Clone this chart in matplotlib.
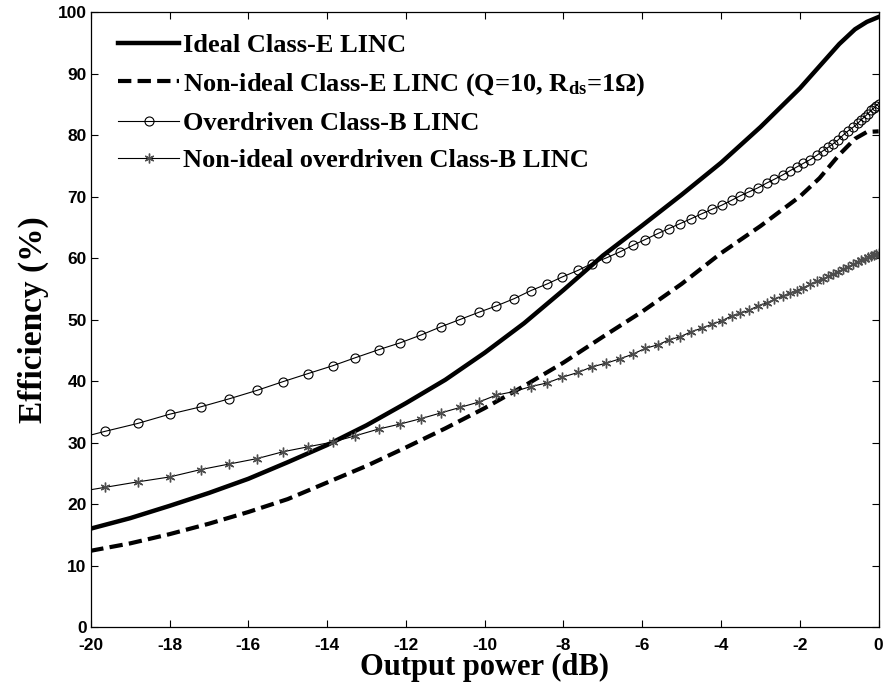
import matplotlib
matplotlib.use("Agg")
import matplotlib.pyplot as plt

# marker grid shared by both Class-B curves (dB)
power_db = [-20.49, -19.65, -18.81, -18.00, -17.21, -16.49, -15.77, -15.12, -14.49, -13.85,
            -13.28, -12.69, -12.15, -11.61, -11.12, -10.63, -10.14, -9.71, -9.25, -8.83,
            -8.41, -8.04, -7.63, -7.28, -6.92, -6.57, -6.23, -5.93, -5.60, -5.32,
            -5.04, -4.76, -4.49, -4.24, -3.98, -3.73, -3.52, -3.28, -3.07, -2.84,
            -2.65, -2.44, -2.25, -2.08, -1.91, -1.74, -1.57, -1.42, -1.28, -1.15,
            -1.03, -0.90, -0.77, -0.64, -0.53, -0.44, -0.35, -0.27, -0.19, -0.12,
            -0.06, 0.0]
class_b_eff = [30.4, 31.8, 33.1, 34.6, 35.8, 37.1, 38.5, 39.9, 41.2, 42.5,
               43.8, 45.1, 46.2, 47.5, 48.8, 50.0, 51.2, 52.2, 53.4, 54.7,
               55.8, 56.9, 58.0, 59.1, 60.0, 61.0, 62.1, 63.0, 64.0, 64.8,
               65.6, 66.4, 67.2, 67.9, 68.6, 69.4, 70.1, 70.8, 71.4, 72.2,
               72.8, 73.5, 74.2, 74.8, 75.4, 76.0, 76.7, 77.4, 78.0, 78.6,
               79.2, 80.0, 80.7, 81.3, 81.9, 82.5, 83.0, 83.5, 84.0, 84.4,
               84.8, 85.1]
class_b_nonideal_eff = [21.8, 22.7, 23.6, 24.4, 25.6, 26.5, 27.4, 28.5, 29.3, 30.1,
                        31.1, 32.2, 33.0, 33.9, 34.8, 35.7, 36.6, 37.7, 38.3, 39.1,
                        39.7, 40.6, 41.4, 42.3, 42.9, 43.6, 44.4, 45.3, 45.9, 46.7,
                        47.2, 48.0, 48.6, 49.2, 49.8, 50.6, 51.0, 51.5, 52.2, 52.7,
                        53.3, 53.8, 54.3, 54.7, 55.2, 55.7, 56.2, 56.6, 57.0, 57.4,
                        57.8, 58.2, 58.6, 59.0, 59.3, 59.6, 59.8, 60.1, 60.3, 60.5,
                        60.7, 60.9]

# Class-E curves (dB)
class_e_db = [-20.5, -20, -19, -18, -17, -16, -15, -14, -13, -12, -11, -10, -9, -8,
              -7, -6, -5, -4, -3, -2, -1.5, -1, -0.6, -0.3, 0]
class_e_ideal = [15.2, 16.0, 17.7, 19.7, 21.8, 24.1, 26.8, 29.6, 32.8, 36.4, 40.2, 44.6,
                 49.4, 54.8, 60.4, 65.3, 70.3, 75.5, 81.3, 87.6, 91.2, 94.8, 97.2, 98.4, 99.2]
class_e_nonideal = [11.8, 12.4, 13.6, 15.1, 16.8, 18.7, 20.8, 23.5, 26.2, 29.2, 32.3, 35.6,
                    39.2, 43.0, 47.2, 51.3, 55.8, 60.8, 65.2, 70.0, 73.0, 76.8, 79.4, 80.5, 80.6]

labels = ["Ideal Class-E LINC",
          r"Non-ideal Class-E LINC (Q=10, R$_{\mathbf{ds}}$=1Ω)",
          "Overdriven Class-B LINC",
          "Non-ideal overdriven Class-B LINC"]

plt.rcParams["axes.unicode_minus"] = False
plt.rcParams["mathtext.fontset"] = "custom"
plt.rcParams["mathtext.rm"] = "Liberation Serif:bold"
plt.rcParams["mathtext.bf"] = "Liberation Serif:bold"
plt.rcParams["mathtext.it"] = "Liberation Serif:bold"

fig = plt.figure(figsize=(8.87, 6.96), dpi=100)
ax = fig.add_axes([0.1023, 0.0991, 0.8883, 0.8836])

ax.plot(class_e_db, class_e_ideal, color="black", linewidth=3.2, label=labels[0])
ax.plot(class_e_db, class_e_nonideal, color="black", linewidth=3.0,
        linestyle=(0, (3.2, 1.5)), label=labels[1])
ax.plot(power_db, class_b_eff, color="black", linewidth=0.8, marker="o",
        markersize=6.5, markerfacecolor="none", markeredgewidth=0.8, label=labels[2])
ax.plot(power_db, class_b_nonideal_eff, color="black", linewidth=0.8, marker=(6, 2, 0),
        markersize=7, markeredgecolor="0.3", markeredgewidth=1.0, label=labels[3])

ax.set_xlim(-20, 0)
ax.set_ylim(0, 100)
ax.set_xticks(range(-20, 1, 2))
ax.set_yticks(range(0, 101, 10))
ax.tick_params(direction="in", top=True, right=True, length=5, width=0.8, pad=3)
ax.tick_params(axis="x", pad=8)
for lbl in ax.get_xticklabels() + ax.get_yticklabels():
    lbl.set_fontfamily("Liberation Sans")
    lbl.set_fontweight("bold")
    lbl.set_fontsize(12.5)
for sp in ax.spines.values():
    sp.set_linewidth(0.9)

ax.set_xlabel("Output power (dB)", fontfamily="Liberation Serif", fontweight="bold",
              fontsize=22, labelpad=0)
ax.set_ylabel("Efficiency (%)", fontfamily="Liberation Serif", fontweight="bold",
              fontsize=24, labelpad=6)

ax.legend(loc="upper left", bbox_to_anchor=(0.035, 0.965), frameon=False,
          borderaxespad=0, borderpad=0, handlelength=2.3, handletextpad=0.15,
          labelspacing=0.52, prop={"family": "Liberation Serif", "weight": "bold", "size": 19})

plt.savefig("out.png", dpi=100)
plt.close()
